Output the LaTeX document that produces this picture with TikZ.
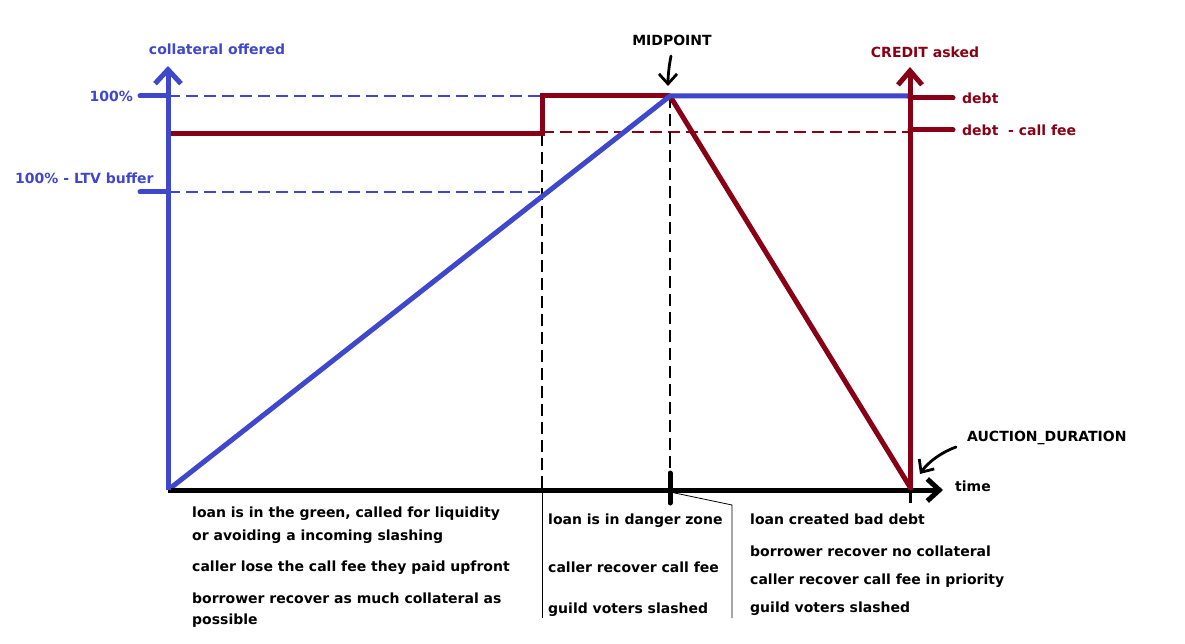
\documentclass[tikz,border=0pt]{standalone}
\usepackage{fontspec}
\setmainfont{DejaVu Sans}
\usetikzlibrary{arrows.meta}
\definecolor{pblue}{RGB}{63,72,204}
\definecolor{pred}{RGB}{136,0,21}
\begin{document}
\begin{tikzpicture}[x=1pt,y=-1pt,
  heavy/.style={line width=5pt},
  guide/.style={line width=1.3pt, dash pattern=on 12pt off 6pt},
  lbl/.style={font=\bfseries\fontsize{14}{16}\selectfont, inner sep=0pt},
  note/.style={lbl, anchor=west},
  handarrow/.style={line width=2.8pt, line cap=round, -{Straight Barb[length=10pt,width=18pt]}}]
\useasboundingbox[fill=white] (0,0) rectangle (1185,644);

% key points
\coordinate (O) at (168,490);
\coordinate (Ytop) at (168,66);
\coordinate (Y100) at (168,96);
\coordinate (YLTV) at (168,192);
\coordinate (T100) at (140,96);
\coordinate (TLTV) at (140,192);
\coordinate (R0) at (168,134);
\coordinate (S1) at (542,134);
\coordinate (S2) at (542,96);
\coordinate (D100) at (542,96);
\coordinate (DLTV) at (542,192);
\coordinate (Sbase) at (542,490);
\coordinate (Sbot) at (542,618);
\coordinate (M) at (670,96);
\coordinate (Mtop) at (670,473);
\coordinate (Mbot) at (670,503);
\coordinate (Mmid) at (670,492);
\coordinate (Bend) at (732,505);
\coordinate (Bbot) at (732,618);
\coordinate (Rx) at (910,96);
\coordinate (Rend) at (910,487);
\coordinate (Rbase) at (910,490);
\coordinate (Rtop) at (910,67);
\coordinate (Rt1a) at (910,98);
\coordinate (Rt1b) at (953,98);
\coordinate (Rt2a) at (910,130);
\coordinate (Rt2b) at (953,130);
\coordinate (Fee0) at (542,132);
\coordinate (Fee1) at (910,132);
\coordinate (Xend) at (943,490);
\coordinate (Tk1) at (910,481);
\coordinate (Tk2) at (910,503);

% guide lines
\draw[guide, pblue] (Y100) -- (D100);
\draw[guide, pblue] (YLTV) -- (DLTV);
\draw[guide, pred] (Fee0) -- (Fee1);
\draw[guide, black] (S1) -- (Sbase);
\draw[line width=1pt, black] (Sbase) -- (Sbot);
\draw[guide, black] (M) -- (Mtop);
\draw[line width=0.8pt, black] (Mmid) -- (Bend) -- (Bbot);

% red curve
\draw[heavy, pred] (R0) -- (S1) -- (S2) -- (M);
\draw[heavy, pred] (M) -- (Rend);

% blue curve
\draw[heavy, pblue] (O) -- (M) -- (Rx);

% time axis
\draw[heavy, black, -{Straight Barb[length=12pt,width=22pt]}] (O) -- (Xend);
\draw[heavy, black, line cap=round] (Mtop) -- (Mbot);
\draw[line width=3pt, black] (Tk1) -- (Tk2);

% collateral axis
\draw[heavy, pblue, -{Straight Barb[length=14pt,width=26pt]}] (O) -- (Ytop);
\draw[heavy, pblue, line cap=round] (T100) -- (Y100);
\draw[heavy, pblue, line cap=round] (TLTV) -- (YLTV);

% credit axis
\draw[heavy, pred, -{Straight Barb[length=14pt,width=24pt]}] (Rbase) -- (Rtop);
\draw[heavy, pred, line cap=round] (Rt1a) -- (Rt1b);
\draw[heavy, pred, line cap=round] (Rt2a) -- (Rt2b);

% axis labels
\node[lbl, pblue] (collat) at (217,49) {collateral offered};
\node[lbl, pblue, anchor=east] (l100) at (133,96) {100\%};
\node[lbl, pblue, anchor=west] (lltv) at (15,178) {100\% - LTV buffer};
\node[lbl, pred] (credit) at (925,52) {CREDIT asked};
\node[lbl, pred, anchor=west] (ldebt) at (962,98) {debt};
\node[lbl, pred, anchor=west] (lfee) at (962,130) {debt\ \ - call fee};
\node[lbl] (mid) at (672,40) {MIDPOINT};
\node[lbl, anchor=west] (time) at (955,486) {time};
\node[lbl, anchor=west] (auct) at (967,438) {AUCTION\_DURATION};

% hand-drawn arrows
\coordinate (ma0) at (671,56);
\coordinate (ma1) at (668,86);
\draw[handarrow] (ma0) .. controls (669,66) and (668,76) .. (ma1);
\coordinate (aa0) at (956,447);
\coordinate (aa1) at (920,474);
\draw[handarrow] (aa0) .. controls (942,452) and (928,462) .. (aa1);

% phase notes
\node[note] (n1) at (192,514) {loan is in the green, called for liquidity};
\node[note] (n2) at (192,537) {or avoiding a incoming slashing};
\node[note] (n3) at (192,568) {caller lose the call fee they paid upfront};
\node[note] (n4) at (192,598) {borrower recover as much collateral as};
\node[note] (n5) at (192,621) {possible};

\node[note] (m1) at (548,521) {loan is in danger zone};
\node[note] (m2) at (548,567) {caller recover call fee};
\node[note] (m3) at (548,610) {guild voters slashed};

\node[note] (r1) at (750,519) {loan created bad debt};
\node[note] (r2) at (750,551) {borrower recover no collateral};
\node[note] (r3) at (750,581) {caller recover call fee in priority};
\node[note] (r4) at (750,609) {guild voters slashed};
\end{tikzpicture}
\end{document}
